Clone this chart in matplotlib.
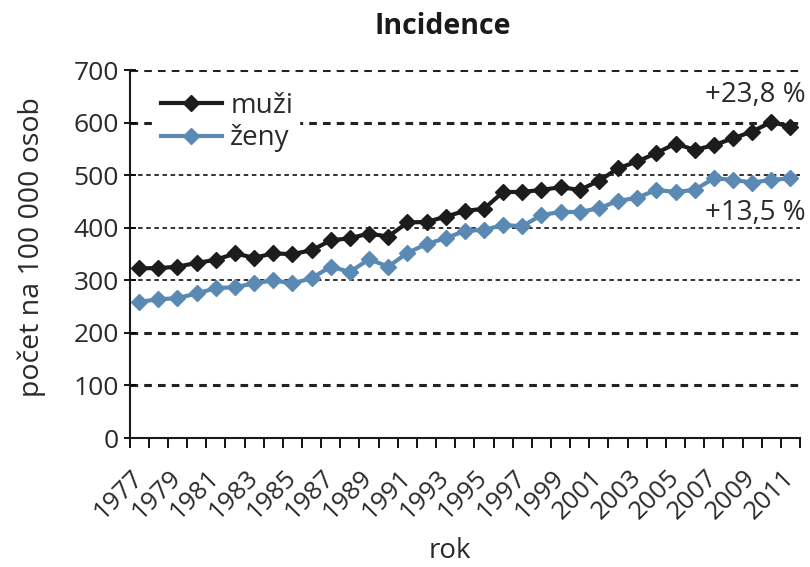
import matplotlib
matplotlib.use('Agg')
import matplotlib.pyplot as plt
import numpy as np

plt.rcParams['font.family'] = ['Open Sans', 'DejaVu Sans']

years = list(range(1977, 2012))
muzi = [323, 323, 326, 333, 339, 351, 343, 351, 350, 357, 376, 380, 389, 383, 410, 411, 421, 432,
        436, 468, 468, 472, 477, 472, 489, 513, 526, 542, 560, 548, 557, 570, 583, 601, 592]
zeny = [259, 264, 266, 275, 285, 287, 294, 300, 294, 304, 326, 316, 340, 326, 352, 369, 380, 394,
        396, 405, 403, 424, 430, 430, 437, 451, 457, 472, 468, 472, 494, 491, 486, 491, 494]
yticks = [0, 100, 200, 300, 400, 500, 600, 700]
notes = ['+23,8 %', '+13,5 %']

fig = plt.figure(figsize=(8.1, 5.67), dpi=100)
ax = fig.add_axes([0.16, 0.2275, 0.8277, 0.649])

x = np.arange(len(years))
txt = '#2a2a2a'

# gridlines: heavy and light dotted lines like the original
for v in yticks[1:]:
    lw = 2.2 if v in (100, 200, 600, 700) else 1.3
    ax.axhline(v, color='#222222', lw=lw, ls=(0, (2.5, 2.0)), zorder=1)

ax.plot(x, muzi, color='#1c1c1c', lw=3, marker='D', ms=8, label='muži', zorder=3)
ax.plot(x, zeny, color='#5a8ab3', lw=3, marker='D', ms=8, label='ženy', zorder=3)

ax.set_xlim(-0.5, len(years) - 0.5)
ax.set_ylim(0, 700)
ax.set_yticks(yticks)
ax.set_yticklabels([str(v) for v in yticks], fontsize=19, color=txt)
ax.tick_params(axis='y', direction='inout', length=9, width=1.3, pad=3)

ax.set_xticks(x[::2])
ax.set_xticklabels([str(y) for y in years[::2]], rotation=45, ha='right', va='center',
                   rotation_mode='anchor', fontsize=18.5, color=txt)
ax.tick_params(axis='x', length=0, pad=26)
ax.set_xticks(np.arange(len(years) + 1) - 0.5, minor=True)
ax.tick_params(axis='x', which='minor', direction='out', length=7, width=1.3)

for s in ['top', 'right']:
    ax.spines[s].set_visible(False)
for s in ['left', 'bottom']:
    ax.spines[s].set_linewidth(1.5)
    ax.spines[s].set_color('#1a1a1a')

ax.set_ylabel('počet na 100 000 osob', fontsize=20.5, color=txt)
ax.yaxis.set_label_coords(-0.125, 0.52)
ax.set_xlabel('rok', fontsize=20, color=txt, va='top')
ax.xaxis.set_label_coords(0.478, -0.27)
fig.text(0.547, 0.954, 'Incidence', ha='center', va='center', fontsize=20.5,
         fontweight='bold', color='#1a1a1a')

ax.text(len(years) - 0.2, 652, notes[0], ha='right', va='center', fontsize=20, color=txt)
ax.text(len(years) - 0.2, 428, notes[1], ha='right', va='center', fontsize=20, color=txt)

leg = ax.legend(loc='upper left', bbox_to_anchor=(0.03, 0.97), fontsize=20, frameon=True,
                framealpha=1, edgecolor='white', handlelength=2.2, handletextpad=0.3,
                labelspacing=0.15, borderpad=0.2, borderaxespad=0.2)
for t in leg.get_texts():
    t.set_color(txt)

fig.savefig('out.png', dpi=100)
